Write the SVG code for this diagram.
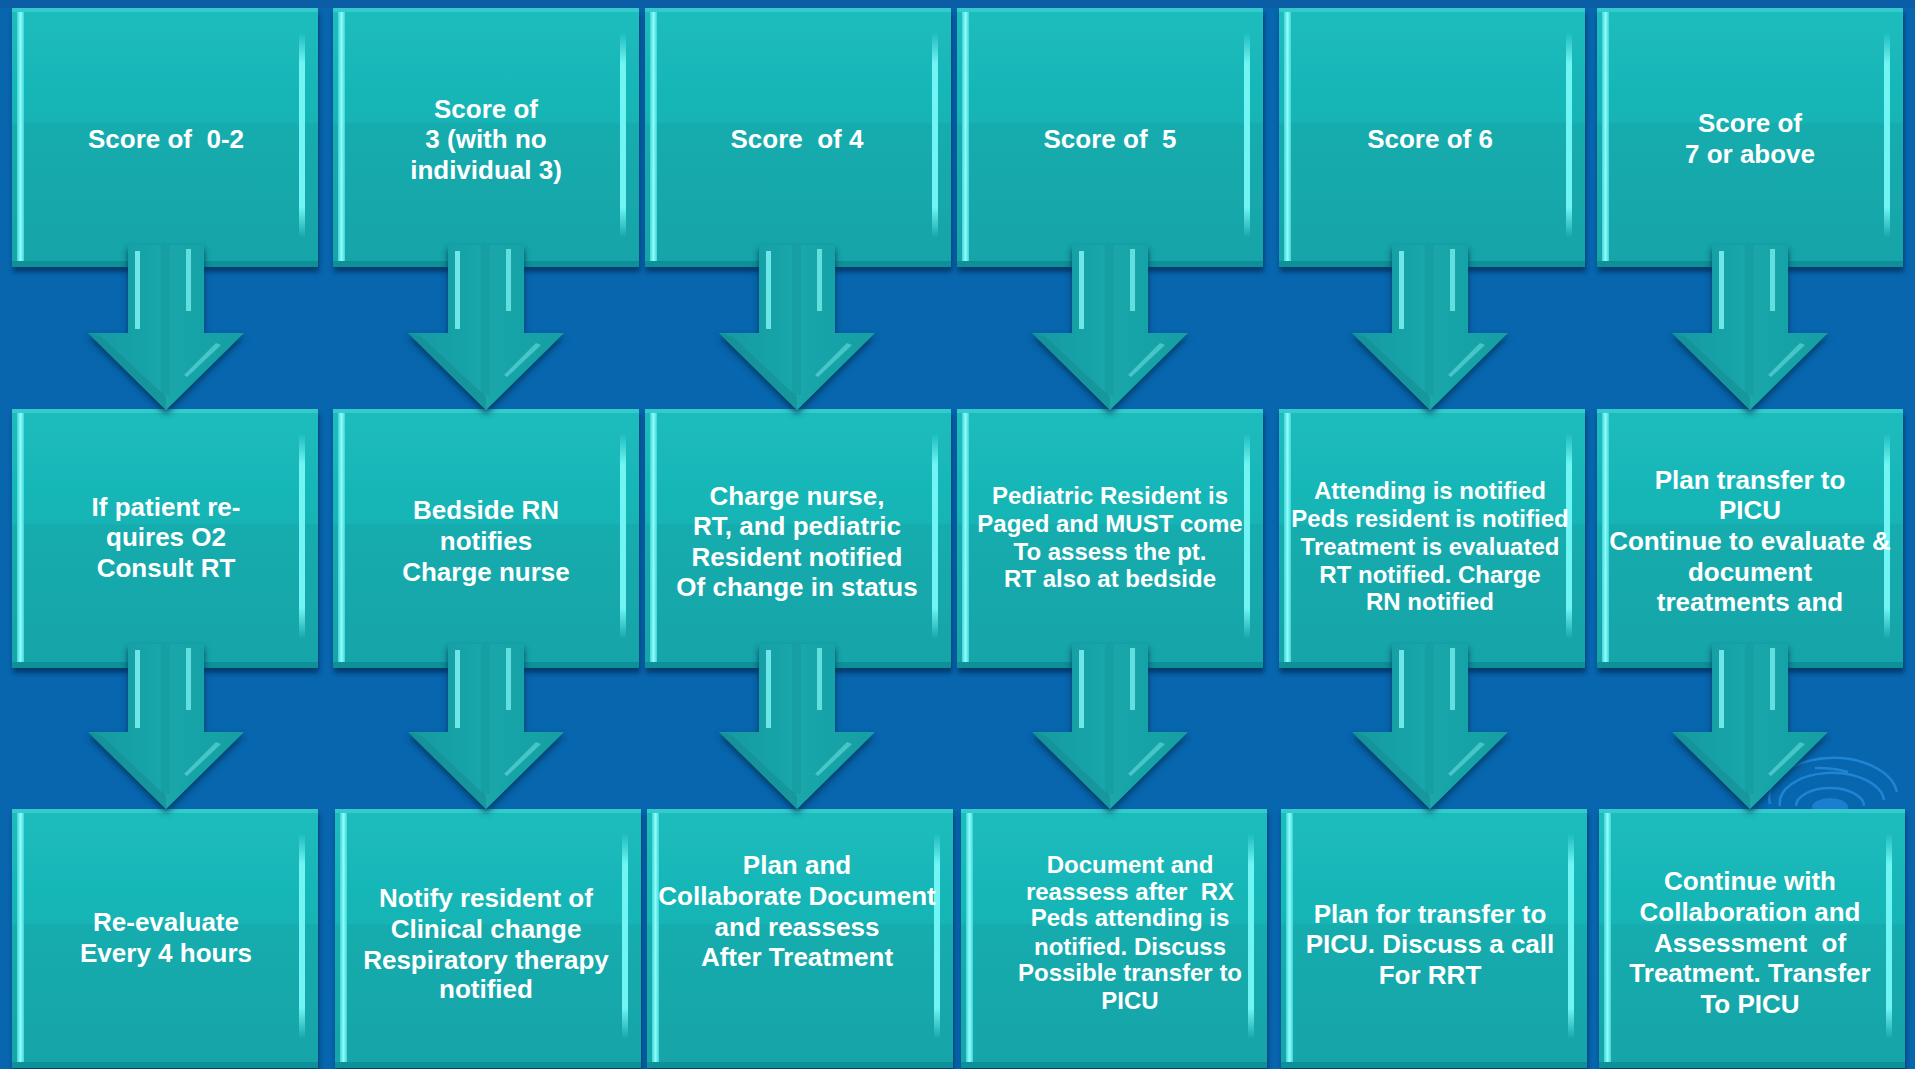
<svg xmlns="http://www.w3.org/2000/svg" xmlns:xlink="http://www.w3.org/1999/xlink" width="1915" height="1069" viewBox="0 0 1915 1069">
<defs>
<style>
.t{font-family:"Liberation Sans",Arial,"DejaVu Sans",sans-serif;font-weight:bold;font-size:26px;fill:#ffffff;text-anchor:middle}
.s{font-size:24px}
.sw{fill:none;stroke:#2a8fe0;stroke-width:2.5;opacity:.75}
</style>
<linearGradient id="boxFill" x1="0" y1="0" x2="0" y2="1">
<stop offset="0" stop-color="#1bbcbd"/>
<stop offset="0.44" stop-color="#18b4b5"/>
<stop offset="0.45" stop-color="#16acae"/>
<stop offset="1" stop-color="#14a4a8"/>
</linearGradient>
<linearGradient id="hiL" x1="0" y1="0" x2="1" y2="0">
<stop offset="0" stop-color="#3fd6d6"/>
<stop offset="0.5" stop-color="#8ffcfc"/>
<stop offset="1" stop-color="#3fd6d6"/>
</linearGradient>
<linearGradient id="hiR" x1="0" y1="0" x2="0" y2="1">
<stop offset="0" stop-color="#6ff4f4" stop-opacity="0"/>
<stop offset="0.15" stop-color="#6ff4f4"/>
<stop offset="0.85" stop-color="#6ff4f4"/>
<stop offset="1" stop-color="#6ff4f4" stop-opacity="0"/>
</linearGradient>
<linearGradient id="arFill" x1="0" y1="0" x2="1" y2="0">
<stop offset="0" stop-color="#1599a0"/>
<stop offset="0.5" stop-color="#1aa7aa"/>
<stop offset="1" stop-color="#169ea3"/>
</linearGradient>
<filter id="sh" x="-10%" y="-10%" width="120%" height="125%">
<feDropShadow dx="1" dy="5" stdDeviation="2.5" flood-color="#03335f" flood-opacity="0.8"/>
</filter>
<filter id="ash" x="-20%" y="-10%" width="140%" height="130%">
<feDropShadow dx="0" dy="4" stdDeviation="3" flood-color="#02305a" flood-opacity="0.85"/>
</filter>
<g id="box">
<rect width="306" height="259" fill="url(#boxFill)"/>
<rect width="306" height="4" fill="#46d4d4" opacity="0.6"/>
<rect x="5" y="4" width="7" height="251" fill="url(#hiL)"/>
<rect x="287" y="24" width="6" height="206" fill="url(#hiR)"/>
<rect y="253" width="306" height="6" fill="#0f9097"/>
</g>
<g id="arrow">
<path d="M-38,0 H38 V88 H78 L0,165 L-78,88 H-38 Z" fill="url(#arFill)"/>
<path d="M-78,88 L0,165 L0,152 L-64,92 Z" fill="#118a92" opacity="0.5"/>
<rect x="-31" y="6" width="5" height="78" fill="#84f6f6" opacity="0.8"/>
<rect x="20" y="4" width="5" height="62" fill="#84f6f6" opacity="0.7"/>
<rect x="-5" y="0" width="9" height="150" fill="#0f8d94" opacity="0.25"/>
<path d="M50,98 L18,130 L21,132 L55,100 Z" fill="#7ef2f2" opacity="0.45"/>
</g>
</defs>

<rect width="1915" height="1069" fill="#0766ae"/>
<rect width="1915" height="8" fill="#0b5ea6"/>

<g id="swirl">
<ellipse cx="1830" cy="807" rx="18" ry="9" fill="#2b8ee2" opacity="0.6"/>
<path class="sw" d="M1796,806 A34,18 0 0 1 1864,806"/>
<path class="sw" d="M1780,806 A52,30 0 0 1 1884,800"/>
<path class="sw" d="M1770,804 A64,40 0 0 1 1897,792" opacity="0.5"/>
<path class="sw" d="M1815,768 A60,30 0 0 1 1848,772" opacity="0.6"/>
</g>

<g id="nodes">
<g id="n-top-1"><use xlink:href="#box" x="12" y="8" filter="url(#sh)"/><text class="t" x="166" y="148" xml:space="preserve">Score of  0-2</text></g>
<g id="n-top-2"><use xlink:href="#box" x="333" y="8" filter="url(#sh)"/><text class="t"><tspan x="486" y="118">Score of</tspan><tspan x="486" y="148">3 (with no</tspan><tspan x="486" y="179">individual 3)</tspan></text></g>
<g id="n-top-3"><use xlink:href="#box" x="645" y="8" filter="url(#sh)"/><text class="t" x="797" y="148" xml:space="preserve">Score  of 4</text></g>
<g id="n-top-4"><use xlink:href="#box" x="957" y="8" filter="url(#sh)"/><text class="t" x="1110" y="148" xml:space="preserve">Score of  5</text></g>
<g id="n-top-5"><use xlink:href="#box" x="1279" y="8" filter="url(#sh)"/><text class="t" x="1430" y="148">Score of 6</text></g>
<g id="n-top-6"><use xlink:href="#box" x="1597" y="8" filter="url(#sh)"/><text class="t"><tspan x="1750" y="132">Score of</tspan><tspan x="1750" y="163">7 or above</tspan></text></g>

<g id="n-mid-1"><use xlink:href="#box" x="12" y="409" filter="url(#sh)"/><text class="t"><tspan x="166" y="516">If patient re-</tspan><tspan x="166" y="546">quires O2</tspan><tspan x="166" y="577">Consult RT</tspan></text></g>
<g id="n-mid-2"><use xlink:href="#box" x="333" y="409" filter="url(#sh)"/><text class="t"><tspan x="486" y="519">Bedside RN</tspan><tspan x="486" y="550">notifies</tspan><tspan x="486" y="581">Charge nurse</tspan></text></g>
<g id="n-mid-3"><use xlink:href="#box" x="645" y="409" filter="url(#sh)"/><text class="t"><tspan x="797" y="505">Charge nurse,</tspan><tspan x="797" y="535">RT, and pediatric</tspan><tspan x="797" y="566">Resident notified</tspan><tspan x="797" y="596">Of change in status</tspan></text></g>
<g id="n-mid-4"><use xlink:href="#box" x="957" y="409" filter="url(#sh)"/><text class="t s"><tspan x="1110" y="504">Pediatric Resident is</tspan><tspan x="1110" y="532">Paged and MUST come</tspan><tspan x="1110" y="560">To assess the pt.</tspan><tspan x="1110" y="587">RT also at bedside</tspan></text></g>
<g id="n-mid-5"><use xlink:href="#box" x="1279" y="409" filter="url(#sh)"/><text class="t s"><tspan x="1430" y="499">Attending is notified</tspan><tspan x="1430" y="527">Peds resident is notified</tspan><tspan x="1430" y="555">Treatment is evaluated</tspan><tspan x="1430" y="583">RT notified. Charge</tspan><tspan x="1430" y="610">RN notified</tspan></text></g>
<g id="n-mid-6"><use xlink:href="#box" x="1597" y="409" filter="url(#sh)"/><text class="t"><tspan x="1750" y="489">Plan transfer to</tspan><tspan x="1750" y="519">PICU</tspan><tspan x="1750" y="550">Continue to evaluate &amp;</tspan><tspan x="1750" y="581">document</tspan><tspan x="1750" y="611">treatments and</tspan></text></g>

<g id="n-bot-1"><use xlink:href="#box" x="12" y="809" filter="url(#sh)"/><text class="t"><tspan x="166" y="931">Re-evaluate</tspan><tspan x="166" y="962">Every 4 hours</tspan></text></g>
<g id="n-bot-2"><use xlink:href="#box" x="335" y="809" filter="url(#sh)"/><text class="t"><tspan x="486" y="907">Notify resident of</tspan><tspan x="486" y="938">Clinical change</tspan><tspan x="486" y="969">Respiratory therapy</tspan><tspan x="486" y="998">notified</tspan></text></g>
<g id="n-bot-3"><use xlink:href="#box" x="647" y="809" filter="url(#sh)"/><text class="t"><tspan x="797" y="874">Plan and</tspan><tspan x="797" y="905">Collaborate Document</tspan><tspan x="797" y="936">and reassess</tspan><tspan x="797" y="966">After Treatment</tspan></text></g>
<g id="n-bot-4"><use xlink:href="#box" x="961" y="809" filter="url(#sh)"/><text class="t s" xml:space="preserve"><tspan x="1130" y="873">Document and</tspan><tspan x="1130" y="900">reassess after  RX</tspan><tspan x="1130" y="926">Peds attending is</tspan><tspan x="1130" y="955">notified. Discuss</tspan><tspan x="1130" y="981">Possible transfer to</tspan><tspan x="1130" y="1009">PICU</tspan></text></g>
<g id="n-bot-5"><use xlink:href="#box" x="1281" y="809" filter="url(#sh)"/><text class="t"><tspan x="1430" y="923">Plan for transfer to</tspan><tspan x="1430" y="953">PICU. Discuss a call</tspan><tspan x="1430" y="984">For RRT</tspan></text></g>
<g id="n-bot-6"><use xlink:href="#box" x="1599" y="809" filter="url(#sh)"/><text class="t" xml:space="preserve"><tspan x="1750" y="890">Continue with</tspan><tspan x="1750" y="921">Collaboration and</tspan><tspan x="1750" y="952">Assessment  of</tspan><tspan x="1750" y="982">Treatment. Transfer</tspan><tspan x="1750" y="1013">To PICU</tspan></text></g>
</g>

<g id="connectors" filter="url(#ash)">
<use xlink:href="#arrow" transform="translate(166,245)"/>
<use xlink:href="#arrow" transform="translate(486,245)"/>
<use xlink:href="#arrow" transform="translate(797,245)"/>
<use xlink:href="#arrow" transform="translate(1110,245)"/>
<use xlink:href="#arrow" transform="translate(1430,245)"/>
<use xlink:href="#arrow" transform="translate(1750,245)"/>
<use xlink:href="#arrow" transform="translate(166,644)"/>
<use xlink:href="#arrow" transform="translate(486,644)"/>
<use xlink:href="#arrow" transform="translate(797,644)"/>
<use xlink:href="#arrow" transform="translate(1110,644)"/>
<use xlink:href="#arrow" transform="translate(1430,644)"/>
<use xlink:href="#arrow" transform="translate(1750,644)"/>
</g>
</svg>
